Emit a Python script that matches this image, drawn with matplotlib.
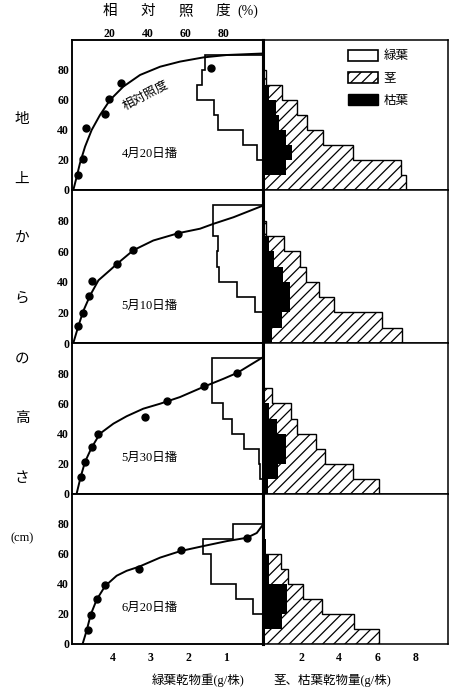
import matplotlib
matplotlib.use("Agg")
import matplotlib.pyplot as plt
from matplotlib.patches import Patch
import numpy as np

plt.rcParams['font.family'] = ['Liberation Serif', 'Noto Sans CJK JP', 'DejaVu Sans']
plt.rcParams['hatch.linewidth'] = 0.9

# layer edges (cm above ground)
layer_edges = [0, 10, 20, 30, 40, 50, 60, 70, 80, 90]
sowing = ['4月20日播', '5月10日播', '5月30日播', '6月20日播']

# green leaf dry weight per 10 cm layer (g/plant), bottom -> top
leaf_apr20 = [0, 0, 0.17, 0.54, 1.21, 1.32, 1.77, 1.63, 1.56]
leaf_may10 = [0, 0, 0.21, 0.70, 1.17, 1.23, 1.19, 1.33, 1.33]
leaf_may30 = [0, 0.08, 0.10, 0.52, 0.82, 1.06, 1.37, 1.37, 1.37]
leaf_jun20 = [0, 0, 0.26, 0.73, 1.39, 1.39, 1.61, 0.81, 0]

# stem dry weight
stem_apr20 = [7.5, 7.25, 4.74, 3.16, 2.3, 1.8, 1.0, 0.15, 0]
stem_may10 = [7.3, 6.25, 3.74, 2.95, 2.25, 1.95, 1.1, 0.15, 0]
stem_may30 = [6.1, 4.74, 3.25, 2.8, 1.77, 1.46, 0.49, 0, 0]
stem_jun20 = [6.1, 4.75, 3.09, 2.1, 1.33, 0.93, 0, 0, 0]

# dead leaf dry weight
dead_apr20 = [0, 1.19, 1.54, 1.19, 0.84, 0.67, 0.32, 0, 0]
dead_may10 = [0.45, 1.0, 1.4, 1.4, 1.05, 0.6, 0.3, 0, 0]
dead_may30 = [0.25, 0.8, 1.2, 1.2, 0.75, 0.3, 0.1, 0, 0]
dead_jun20 = [0, 1.0, 1.25, 1.25, 0.3, 0.3, 0.15, 0, 0]

# measured relative light intensity (%) vs height (cm)
pts_L_apr20 = [3.3, 6.0, 7.4, 17.5, 19.6, 25.7, 73.4]
pts_h_apr20 = [10, 20.4, 41, 50.7, 60.7, 71, 81.5]
pts_L_may10 = [3.3, 6.0, 9.2, 10.4, 23.6, 32.4, 56.3]
pts_h_may10 = [10.8, 19.9, 30.7, 40.6, 51.5, 60.6, 71.4]
pts_L_may30 = [4.6, 6.9, 10.4, 13.9, 38.6, 50.4, 70.0, 87.5]
pts_h_may30 = [11.4, 21.3, 30.8, 40.0, 51.0, 61.3, 71.2, 80.3]
pts_L_jun20 = [8.6, 9.9, 13.1, 17.5, 35.4, 57.5, 92.4]
pts_h_jun20 = [9.2, 19.6, 29.7, 39.6, 49.9, 62.5, 70.8]

# fitted curves
cur_L_apr20 = [0.7, 2.5, 4.2, 6.9, 10.4, 14.8, 20.1, 27.1, 36.0, 46.6, 57.1, 69.5, 81.9, 101]
cur_h_apr20 = [0, 8.9, 17.8, 28.9, 40, 50, 60, 68.9, 76.7, 82.2, 85.6, 88.4, 90, 91]
cur_L_may10 = [0.7, 3.3, 6.0, 9.7, 14.0, 20.1, 23.6, 32.4, 43.0, 56.3, 67.7, 74.8, 85.4, 101]
cur_h_may10 = [0, 10.8, 21, 31.4, 41, 47.6, 51.5, 60.6, 67, 71.8, 74.7, 77.9, 82.2, 89.8]
cur_L_may30 = [2.5, 4.6, 6.9, 10.4, 14.8, 21.9, 28.9, 37.7, 46.6, 57.1, 70.0, 80.1, 87.5, 101]
cur_h_may30 = [0.5, 11.4, 21.3, 30.8, 40, 46.6, 51.5, 56.5, 59.8, 64.2, 71.2, 76.3, 80.3, 90.6]
cur_L_jun20 = [5.6, 7.8, 9.9, 13.1, 17.5, 23.6, 28.9, 35.4, 46.6, 57.5, 69.5, 81.9, 92.4, 97.7, 101]
cur_h_jun20 = [0, 9.2, 19.6, 29.7, 38.6, 45.5, 48.8, 51.5, 57.6, 62, 65.3, 68.6, 70.8, 74, 79.6]

leaf = [leaf_apr20, leaf_may10, leaf_may30, leaf_jun20]
stem = [stem_apr20, stem_may10, stem_may30, stem_jun20]
dead = [dead_apr20, dead_may10, dead_may30, dead_jun20]
pts = [(pts_L_apr20, pts_h_apr20), (pts_L_may10, pts_h_may10),
       (pts_L_may30, pts_h_may30), (pts_L_jun20, pts_h_jun20)]
curves = [(cur_L_apr20, cur_h_apr20), (cur_L_may10, cur_h_may10),
          (cur_L_may30, cur_h_may30), (cur_L_jun20, cur_h_jun20)]

height_ticks = [0, 20, 40, 60, 80]
leaf_ticks = [4, 3, 2, 1]
stem_ticks = [2, 4, 6, 8]
light_ticks = [20, 40, 60, 80]
light_title = ['相', '対', '照', '度']

W, H = 456, 692
fig = plt.figure(figsize=(W / 100, H / 100), dpi=100)
x0, xd, x1 = 72, 263, 448
row_top = [40, 190, 343, 494]
row_bot = [190, 343, 494, 644]

num_font = dict(fontsize=8.5, fontweight='bold')

for i in range(4):
    b = 1 - row_bot[i] / H
    h = (row_bot[i] - row_top[i]) / H
    axl = fig.add_axes([x0 / W, b, (xd - x0) / W, h])
    axr = fig.add_axes([xd / W, b, (x1 - xd) / W, h])

    # green leaves (outline only)
    axl.stairs(leaf[i], layer_edges, orientation='horizontal', baseline=0,
               fill=False, color='black', lw=1.2)
    axl.set_xlim(5.1, 0)
    axl.set_ylim(0, 100)
    axl.set_yticks(height_ticks)
    axl.set_yticklabels([str(t) for t in height_ticks], **num_font)
    axl.tick_params(axis='y', length=0, pad=2)
    axl.tick_params(axis='x', length=0, pad=6)
    if i == 3:
        axl.set_xticks(leaf_ticks)
        axl.set_xticklabels([str(t) for t in leaf_ticks], **num_font)
    else:
        axl.set_xticks([])

    # relative light on a twin axis
    axt = axl.twiny()
    axt.set_xlim(0, 101)
    axt.plot(curves[i][0], curves[i][1], color='black', lw=1.4)
    axt.plot(pts[i][0], pts[i][1], 'o', color='black', ms=5)
    axt.text(41, 24, sowing[i], ha='center', va='center', fontsize=9)
    axt.tick_params(axis='x', length=0, pad=0)
    if i == 0:
        axt.set_xticks(light_ticks)
        axt.set_xticklabels([str(t) for t in light_ticks], **num_font)
        for t, c in zip(light_ticks, light_title):
            axt.text(t, 1.19, c, transform=axt.get_xaxis_transform(),
                     ha='center', va='center', fontsize=10.5)
        axt.text(93, 1.19, '(%)', transform=axt.get_xaxis_transform(),
                 ha='center', va='center', fontsize=10)
        axt.text(39, 63, '相対照度', rotation=28, ha='center', va='center',
                 fontsize=9)
    else:
        axt.set_xticks([])

    # stems (hatched) and dead leaves (black)
    axr.stairs(stem[i], layer_edges, orientation='horizontal', baseline=0,
               fill=True, facecolor='white', edgecolor='black', hatch='///',
               lw=1.0)
    axr.stairs(dead[i], layer_edges, orientation='horizontal', baseline=0,
               fill=True, color='black')
    axr.set_xlim(0, 9.7)
    axr.set_ylim(0, 100)
    axr.set_yticks([])
    axr.tick_params(axis='both', length=0, pad=6)
    if i == 3:
        axr.set_xticks(stem_ticks)
        axr.set_xticklabels([str(t) for t in stem_ticks], **num_font)
    else:
        axr.set_xticks([])
    for ax in (axl, axr, axt):
        for s in ax.spines.values():
            s.set_linewidth(1.1)
    axl.spines['right'].set_linewidth(2.2)
    axr.spines['left'].set_linewidth(2.2)

    if i == 0:
        handles = [Patch(facecolor='white', edgecolor='black', lw=1.2),
                   Patch(facecolor='white', edgecolor='black', hatch='///', lw=1.2),
                   Patch(facecolor='black', edgecolor='black')]
        axr.legend(handles, ['緑葉', '茎', '枯葉'], loc='upper left',
                   bbox_to_anchor=(0.43, 0.97), frameon=False, fontsize=9,
                   handlelength=2.4, handleheight=1.0, labelspacing=0.75,
                   handletextpad=0.5, borderaxespad=0)

# vertical axis label
ylab_chars = ['地', '上', 'か', 'ら', 'の', '高', 'さ', '(cm)']
for c, yp in zip(ylab_chars, np.linspace(120, 538, len(ylab_chars))):
    fig.text(22 / W, 1 - yp / H, c, ha='center', va='center',
             fontsize=10.5 if c != '(cm)' else 9)

fig.text(198 / W, 1 - 680 / H, '緑葉乾物重(g/株)', ha='center', va='center', fontsize=9)
fig.text(332 / W, 1 - 680 / H, '茎、枯葉乾物量(g/株)', ha='center', va='center', fontsize=9)

fig.savefig('out.png', dpi=100)
